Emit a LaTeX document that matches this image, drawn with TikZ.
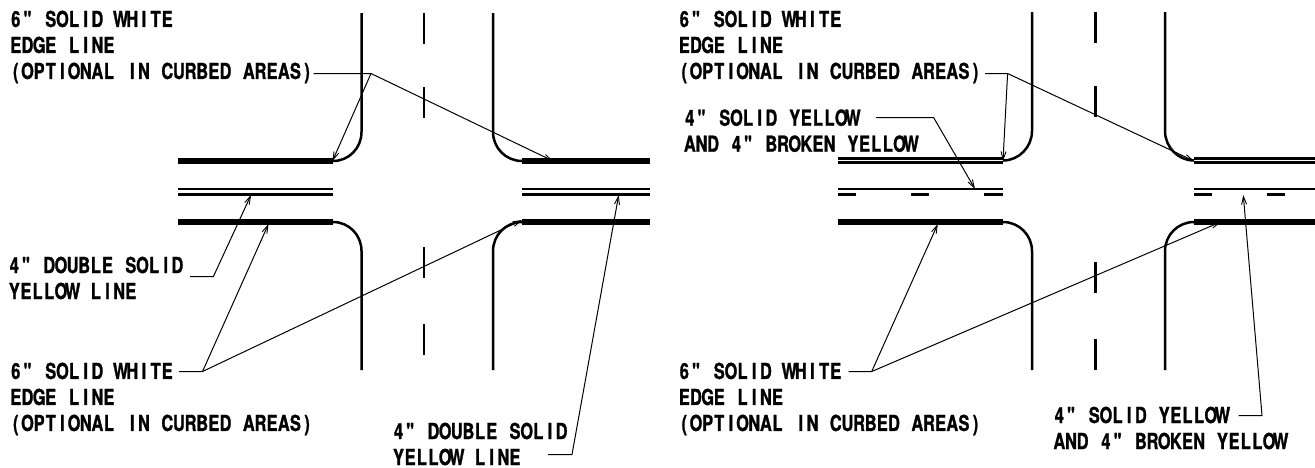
\documentclass[tikz,border=0pt]{standalone}
\usepackage{fontspec}
\usetikzlibrary{arrows.meta}
\newfontfamily\cadfont{TeX Gyre Heros}[FakeStretch=0.74,FakeBold=1.2]
\newlength{\cadcell}\setlength{\cadcell}{11.65pt}
\ExplSyntaxOn
\NewDocumentCommand{\cad}{m}{\str_map_inline:nn {#1} {\makebox[\cadcell][c]{##1}}}
\ExplSyntaxOff
\tikzset{
  x=1pt,y=-1pt,
  road/.style={line width=2.5pt,line cap=butt},
  edge/.style={line width=5.6pt},
  edgetwin/.style={line width=3pt},
  yel/.style={line width=2.6pt},
  dash seg/.style={line width=3pt},
  leader/.style={line width=1pt,line join=miter},
  arr/.style={leader,-{Straight Barb[length=8pt,width=5pt,line width=0.9pt]}},
  lab/.style={anchor=west,inner sep=0pt,outer sep=0pt,align=left,
    font={\cadfont\bfseries\fontsize{22}{26}\selectfont}}
}
\begin{document}
\begin{tikzpicture}
\useasboundingbox (0,0) rectangle (1315,467);
% ---------- left panel: road
\draw[road] (361.5,13) -- (361.5,132) .. controls (361.5,148) and (349,161) .. (333,161);
\draw[road] (493,13) -- (493,132) .. controls (493,148) and (506,161) .. (522,161);
\draw[road] (361.5,370) -- (361.5,251) .. controls (361.5,235) and (349,222) .. (333,222);
\draw[road] (493,370) -- (493,251) .. controls (493,235) and (506,222) .. (522,222);
\foreach \a/\b in {13/43.5,87/117.5,247/278,324/355} \draw[road] (424,\a) -- (424,\b);
\foreach \a/\b in {178/333,522/650} {
  \draw[edge] (\a,161) -- (\b,161);
  \draw[edge] (\a,222) -- (\b,222);
  \draw[yel] (\a,189) -- (\b,189);
  \draw[yel] (\a,194.5) -- (\b,194.5);
}
% ---------- right panel: road
\draw[road] (1032,12) -- (1032,131) .. controls (1032,147) and (1019,160.5) .. (1003,160.5);
\draw[road] (1165,12) -- (1165,131) .. controls (1165,147) and (1178,160.5) .. (1194,160.5);
\draw[road] (1032,370) -- (1032,251) .. controls (1032,235) and (1019,222) .. (1003,222);
\draw[road] (1165,370) -- (1165,251) .. controls (1165,235) and (1178,222) .. (1194,222);
\foreach \a/\b in {12/43,86/117,262/293,339/370} \draw[road] (1095.5,\a) -- (1095.5,\b);
\foreach \a/\b in {838/1003,1194/1315} {
  \draw[edgetwin] (\a,158.5) -- (\b,158.5);
  \draw[edgetwin] (\a,162.5) -- (\b,162.5);
  \draw[edge] (\a,222) -- (\b,222);
  \draw[yel] (\a,189) -- (\b,189);
}
\foreach \a/\b in {838/856,911/929,984/1003,1194/1212,1266.5/1285} \draw[dash seg] (\a,194) -- (\b,194);
% ---------- left panel: labels
\node[lab] (la) at (10,47) {\cad{6" SOLID WHITE}\\\cad{EDGE LINE}\\\cad{(OPTIONAL IN CURBED AREAS)}};
\node[lab] (lb) at (8.5,278) {\cad{4" DOUBLE SOLID}\\\cad{YELLOW LINE}};
\node[lab] (lc) at (10,399) {\cad{6" SOLID WHITE}\\\cad{EDGE LINE}\\\cad{(OPTIONAL IN CURBED AREAS)}};
\node[lab] (ld) at (392.7,444) {\cad{4" DOUBLE SOLID}\\\cad{YELLOW LINE}};
% ---------- right panel: labels
\node[lab] (ra) at (678.5,47) {\cad{6" SOLID WHITE}\\\cad{EDGE LINE}\\\cad{(OPTIONAL IN CURBED AREAS)}};
\node[lab] (rb) at (684,130.7) {\cad{4" SOLID YELLOW}\\\cad{AND 4" BROKEN YELLOW}};
\node[lab] (rc) at (678.5,399) {\cad{6" SOLID WHITE}\\\cad{EDGE LINE}\\\cad{(OPTIONAL IN CURBED AREAS)}};
\node[lab] (rd) at (1053.5,428) {\cad{4" SOLID YELLOW}\\\cad{AND 4" BROKEN YELLOW}};
% ---------- leaders, left
\coordinate (l1s) at (313.5,73.5); \coordinate (l1e) at (371,73.5);
\coordinate (l1t) at (332.5,161); \coordinate (l1u) at (553,161);
\draw[arr] (l1s) -- (l1e) -- (l1t);
\draw[arr] (l1e) -- (l1u);
\coordinate (l2s) at (190,276.5); \coordinate (l2e) at (213.4,276.5); \coordinate (l2t) at (251,195);
\draw[arr] (l2s) -- (l2e) -- (l2t);
\coordinate (l3s) at (179,371.5); \coordinate (l3e) at (202.5,371.5);
\coordinate (l3t) at (268.5,224); \coordinate (l3u) at (522,220);
\draw[arr] (l3s) -- (l3e) -- (l3t);
\draw[arr] (l3e) -- (l3u);
\coordinate (l4s) at (548,454.5); \coordinate (l4e) at (572,454.5); \coordinate (l4t) at (618.7,195);
\draw[arr] (l4s) -- (l4e) -- (l4t);
% ---------- leaders, right
\coordinate (r1s) at (985,73.5); \coordinate (r1e) at (1007.6,73.5);
\coordinate (r1t) at (1003,161); \coordinate (r1u) at (1194,161);
\draw[arr] (r1s) -- (r1e) -- (r1t);
\draw[arr] (r1e) -- (r1u);
\coordinate (r2s) at (876,117.5); \coordinate (r2e) at (933.6,117.5); \coordinate (r2t) at (975,189);
\draw[arr] (r2s) -- (r2e) -- (r2t);
\coordinate (r3s) at (848.5,371.5); \coordinate (r3e) at (871.7,371.5);
\coordinate (r3t) at (937.8,224); \coordinate (r3u) at (1220.6,222);
\draw[arr] (r3s) -- (r3e) -- (r3t);
\draw[arr] (r3e) -- (r3u);
\coordinate (r4s) at (1238.7,415.5); \coordinate (r4e) at (1262,415.5); \coordinate (r4t) at (1243.3,195);
\draw[arr] (r4s) -- (r4e) -- (r4t);
\end{tikzpicture}
\end{document}
